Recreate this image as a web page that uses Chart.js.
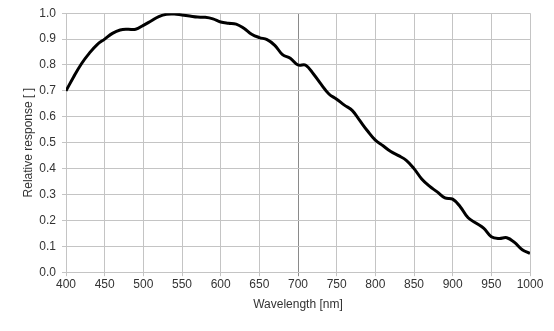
<!DOCTYPE html>
<html>
<head>
<meta charset="utf-8">
<script src="https://cdn.jsdelivr.net/npm/chart.js@4/dist/chart.umd.min.js"></script>
<style>
  html, body { margin: 0; padding: 0; background: #fff; }
  #wrap { width: 554px; height: 331px; position: relative; }
</style>
</head>
<body>
<div id="wrap"><canvas id="responseChart"></canvas></div>
<script>
// Spectral response curve, sampled every 10 nm
const wavelengths = [
  400, 410, 420, 430, 440, 450, 460, 470, 480, 490,
  500, 510, 520, 530, 540, 550, 560, 570, 580, 590,
  600, 610, 620, 630, 640, 650, 660, 670, 680, 690,
  700, 710, 720, 730, 740, 750, 760, 770, 780, 790,
  800, 810, 820, 830, 840, 850, 860, 870, 880, 890,
  900, 910, 920, 930, 940, 950, 960, 970, 980, 990, 1000
];
const response = [
  0.700, 0.755, 0.805, 0.845, 0.878, 0.900, 0.922, 0.935, 0.938, 0.938,
  0.953, 0.970, 0.987, 0.996, 0.997, 0.993, 0.989, 0.985, 0.984, 0.978,
  0.966, 0.961, 0.958, 0.942, 0.919, 0.906, 0.898, 0.876, 0.840, 0.826,
  0.800, 0.799, 0.765, 0.725, 0.688, 0.668, 0.645, 0.625, 0.585, 0.545,
  0.510, 0.488, 0.466, 0.450, 0.432, 0.400, 0.360, 0.332, 0.310, 0.287,
  0.282, 0.252, 0.210, 0.190, 0.170, 0.137, 0.130, 0.133, 0.115, 0.087, 0.073
];
const xTicks = [400, 450, 500, 550, 600, 650, 700, 750, 800, 850, 900, 950, 1000];
const yTicks = [0, 0.1, 0.2, 0.3, 0.4, 0.5, 0.6, 0.7, 0.8, 0.9, 1.0];

const points = wavelengths.map((w, i) => ({ x: w, y: response[i] }));
const font = { family: '"Liberation Sans", Arial, sans-serif', size: 12 };
const gridColor = '#c4c4c4';

new Chart(document.getElementById('responseChart'), {
  type: 'line',
  data: {
    datasets: [{
      data: points,
      borderColor: '#000',
      borderWidth: 3,
      pointRadius: 0,
      tension: 0.4,
      fill: false
    }]
  },
  options: {
    responsive: true,
    maintainAspectRatio: false,
    animation: false,
    layout: { padding: { top: 12, right: 24, left: 21, bottom: 19 } },
    plugins: { legend: { display: false }, tooltip: { enabled: false } },
    scales: {
      x: {
        type: 'linear',
        min: xTicks[0],
        max: xTicks[xTicks.length - 1],
        afterBuildTicks: s => { s.ticks = xTicks.map(v => ({ value: v })); },
        ticks: { font, color: '#333', padding: 1, maxRotation: 0, callback: v => String(v) },
        grid: {
          color: c => (c.tick && c.tick.value === 700) ? '#8a8a8a' : gridColor,
          tickLength: 4
        },
        border: { color: gridColor },
        title: { display: true, text: 'Wavelength [nm]', font, color: '#333', padding: { top: 5, bottom: 0 } }
      },
      y: {
        min: 0,
        max: 1,
        afterBuildTicks: s => { s.ticks = yTicks.map(v => ({ value: v })); },
        afterFit: s => { s.width = 45; },
        ticks: { font, color: '#333', padding: 6, callback: v => v.toFixed(1) },
        grid: { color: gridColor, tickLength: 4 },
        border: { color: gridColor },
        title: { display: true, text: 'Relative response [ ]', font, color: '#333', padding: { top: 0, bottom: 0 } }
      }
    }
  }
});
</script>
</body>
</html>
